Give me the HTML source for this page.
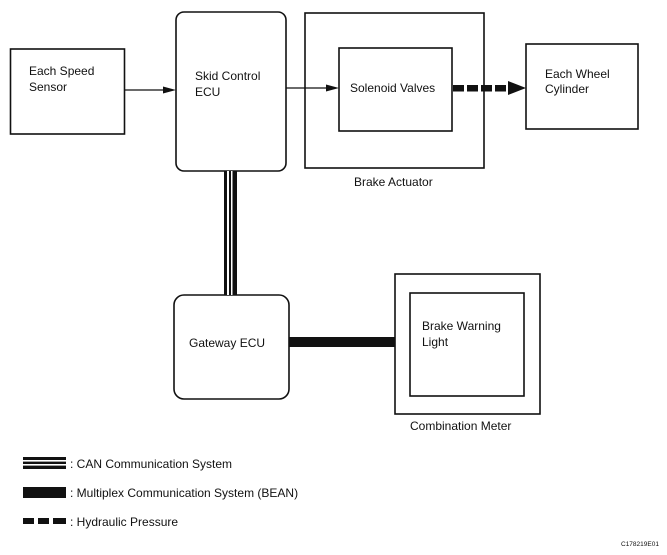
<!DOCTYPE html>
<html><head><meta charset="utf-8"><style>
html,body{margin:0;padding:0;background:#fff;}
svg{display:block;}
text{font-family:"Liberation Sans",Arial,sans-serif;fill:#111;}
</style></head><body>
<svg width="667" height="555" viewBox="0 0 667 555" xmlns="http://www.w3.org/2000/svg">
<g fill="none" stroke="#111" stroke-width="1.6">
  <rect x="10.5" y="49" width="114" height="85"/>
  <rect x="176" y="12" width="110" height="159" rx="8"/>
  <rect x="305" y="13" width="179" height="155"/>
  <rect x="339" y="48" width="113" height="83"/>
  <rect x="526" y="44" width="112" height="85"/>
  <rect x="174" y="295" width="115" height="104" rx="10"/>
  <rect x="395" y="274" width="145" height="140"/>
  <rect x="410" y="293" width="114" height="103"/>
</g>
<!-- arrows -->
<line x1="124" y1="90" x2="166" y2="90" stroke="#111" stroke-width="1.3"/>
<polygon points="176,90 163,86.5 163,93.5" fill="#111"/>
<line x1="286" y1="88" x2="330" y2="88" stroke="#111" stroke-width="1.3"/>
<polygon points="339,88 326,84.5 326,91.5" fill="#111"/>
<!-- hydraulic dashed -->
<g fill="#111">
  <rect x="453" y="85" width="11" height="6.5"/>
  <rect x="467" y="85" width="11" height="6.5"/>
  <rect x="481" y="85" width="11" height="6.5"/>
  <rect x="495" y="85" width="11" height="6.5"/>
  <polygon points="526,88 508,81 508,95"/>
</g>
<!-- CAN line -->
<rect x="224" y="171" width="13" height="124" fill="#111"/>
<rect x="227" y="171" width="2" height="124" fill="#fff"/>
<rect x="231" y="171" width="1.5" height="124" fill="#fff"/>
<!-- BEAN -->
<rect x="289" y="337" width="106" height="10" fill="#111"/>
<!-- labels -->
<g font-size="12">
<text x="29" y="75">Each Speed</text>
<text x="29" y="91">Sensor</text>
<text x="195" y="80">Skid Control</text>
<text x="195" y="96">ECU</text>
<text x="350" y="92">Solenoid Valves</text>
<text x="545" y="78">Each Wheel</text>
<text x="545" y="93">Cylinder</text>
<text x="354" y="186">Brake Actuator</text>
<text x="189" y="347">Gateway ECU</text>
<text x="422" y="330">Brake Warning</text>
<text x="422" y="346">Light</text>
<text x="410" y="430">Combination Meter</text>
<text x="70" y="468">: CAN Communication System</text>
<text x="70" y="497">: Multiplex Communication System (BEAN)</text>
<text x="70" y="526">: Hydraulic Pressure</text>
</g>
<text x="621" y="546" font-size="6.5">C178219E01</text>
<!-- legend swatches -->
<rect x="23" y="457" width="43" height="12" fill="#111"/>
<rect x="23" y="460" width="43" height="1.6" fill="#fff"/>
<rect x="23" y="464" width="43" height="1.6" fill="#fff"/>
<rect x="23" y="487" width="43" height="11" fill="#111"/>
<rect x="23" y="518" width="11" height="6" fill="#111"/>
<rect x="38" y="518" width="11" height="6" fill="#111"/>
<rect x="53" y="518" width="13" height="6" fill="#111"/>
</svg>
</body></html>
